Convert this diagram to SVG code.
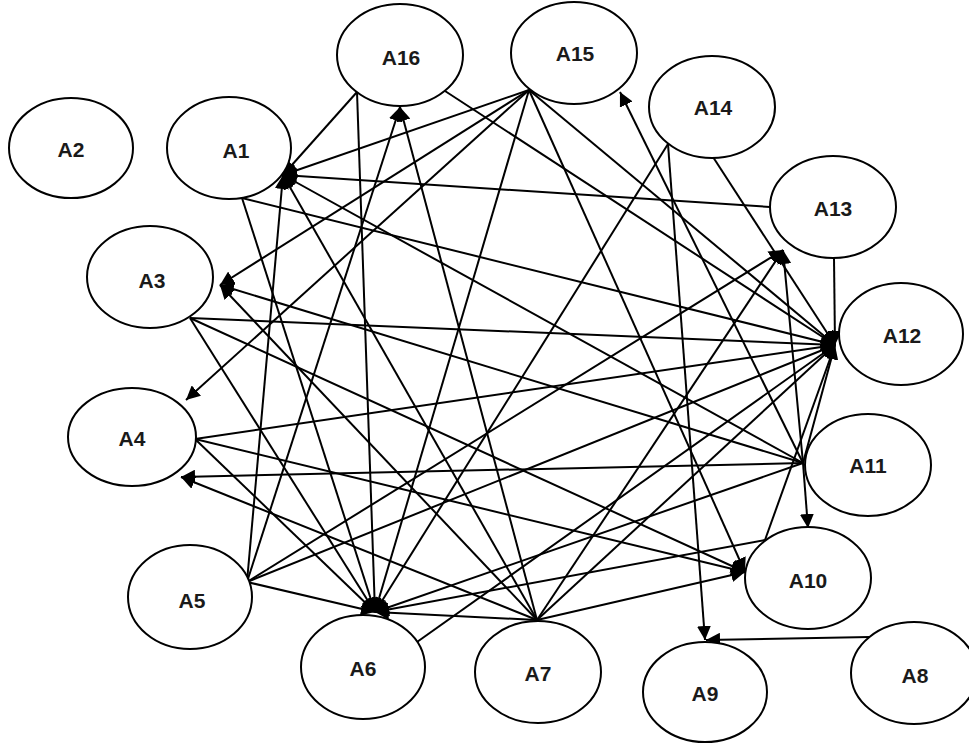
<svg xmlns="http://www.w3.org/2000/svg" width="969" height="746" viewBox="0 0 969 746">
<defs>
<marker id="ah" markerUnits="userSpaceOnUse" markerWidth="14" markerHeight="14" refX="14" refY="7" orient="auto">
<path d="M0,0 L14,7 L0,14 z" fill="#000"/>
</marker>
<style>
.n ellipse{fill:#fff;stroke:#000;stroke-width:2}
.n text{font-family:"Liberation Sans",Arial,sans-serif;font-weight:bold;font-size:21px;fill:#1a1a1a;text-anchor:middle;dominant-baseline:central}
#edges line{stroke:#000;stroke-width:2}
#edges line.a{marker-end:url(#ah)}
</style>
</defs>
<rect width="969" height="746" fill="#fff"/>
<g id="edges">
<line class="a" x1="357" y1="92" x2="283" y2="175"/>
<line class="a" x1="529" y1="90" x2="283" y2="175"/>
<line class="a" x1="770" y1="207" x2="283" y2="175"/>
<line class="a" x1="247" y1="582" x2="283" y2="175"/>
<line class="a" x1="537" y1="620" x2="283" y2="175"/>
<line class="a" x1="803" y1="463" x2="283" y2="175"/>
<line class="a" x1="242" y1="198" x2="375" y2="612"/>
<line class="a" x1="242" y1="198" x2="835" y2="345"/>
<line class="a" x1="357" y1="92" x2="375" y2="612"/>
<line class="a" x1="445" y1="91" x2="835" y2="345"/>
<line class="a" x1="247" y1="582" x2="400" y2="107"/>
<line class="a" x1="537" y1="620" x2="400" y2="107"/>
<line class="a" x1="529" y1="90" x2="220" y2="285"/>
<line class="a" x1="529" y1="90" x2="186" y2="400"/>
<line class="a" x1="529" y1="90" x2="375" y2="612"/>
<line class="a" x1="529" y1="90" x2="745" y2="572"/>
<line class="a" x1="529" y1="90" x2="835" y2="345"/>
<line class="a" x1="803" y1="463" x2="620" y2="92"/>
<line class="a" x1="668" y1="144" x2="375" y2="612"/>
<line class="a" x1="668" y1="144" x2="705" y2="640"/>
<line class="a" x1="713" y1="157" x2="835" y2="345"/>
<line class="a" x1="834" y1="258" x2="835" y2="345"/>
<line class="a" x1="190" y1="318" x2="835" y2="345"/>
<line class="a" x1="195" y1="439" x2="835" y2="345"/>
<line class="a" x1="247" y1="582" x2="835" y2="345"/>
<line class="a" x1="417" y1="642" x2="835" y2="345"/>
<line class="a" x1="537" y1="620" x2="835" y2="345"/>
<line class="a" x1="765" y1="540" x2="835" y2="345"/>
<line class="a" x1="803" y1="463" x2="835" y2="345"/>
<line class="a" x1="247" y1="582" x2="783" y2="250"/>
<line class="a" x1="537" y1="620" x2="783" y2="250"/>
<line class="a" x1="803" y1="463" x2="783" y2="250"/>
<line class="a" x1="803" y1="463" x2="808" y2="528"/>
<line class="a" x1="803" y1="463" x2="220" y2="285"/>
<line class="a" x1="803" y1="463" x2="181" y2="477"/>
<line class="a" x1="803" y1="463" x2="375" y2="612"/>
<line class="a" x1="537" y1="620" x2="220" y2="285"/>
<line class="a" x1="537" y1="620" x2="181" y2="477"/>
<line class="a" x1="537" y1="620" x2="375" y2="612"/>
<line class="a" x1="537" y1="620" x2="745" y2="572"/>
<line class="a" x1="247" y1="582" x2="375" y2="612"/>
<line class="a" x1="190" y1="318" x2="375" y2="612"/>
<line class="a" x1="195" y1="439" x2="375" y2="612"/>
<line class="a" x1="765" y1="540" x2="375" y2="612"/>
<line class="a" x1="190" y1="318" x2="745" y2="572"/>
<line class="a" x1="195" y1="439" x2="745" y2="572"/>
<line class="a" x1="870" y1="637" x2="706" y2="640"/>
</g>
<g id="A2" class="n"><ellipse cx="71" cy="148" rx="62" ry="50"/><text x="71" y="149">A2</text></g>
<g id="A1" class="n"><ellipse cx="229" cy="148" rx="62" ry="51"/><text x="236" y="150">A1</text></g>
<g id="A16" class="n"><ellipse cx="400" cy="55" rx="63" ry="51"/><text x="401" y="57">A16</text></g>
<g id="A15" class="n"><ellipse cx="574" cy="53" rx="63" ry="51"/><text x="575" y="53">A15</text></g>
<g id="A14" class="n"><ellipse cx="712" cy="107" rx="63" ry="51"/><text x="713" y="107">A14</text></g>
<g id="A13" class="n"><ellipse cx="833" cy="207" rx="63" ry="51"/><text x="833" y="208">A13</text></g>
<g id="A12" class="n"><ellipse cx="901" cy="334" rx="62" ry="51"/><text x="902" y="335">A12</text></g>
<g id="A3" class="n"><ellipse cx="150" cy="277" rx="63" ry="51"/><text x="152" y="280">A3</text></g>
<g id="A4" class="n"><ellipse cx="132" cy="437" rx="64" ry="49"/><text x="132" y="438">A4</text></g>
<g id="A5" class="n"><ellipse cx="190" cy="597" rx="62" ry="52"/><text x="192" y="600">A5</text></g>
<g id="A6" class="n"><ellipse cx="363" cy="667" rx="62" ry="52"/><text x="363" y="668">A6</text></g>
<g id="A7" class="n"><ellipse cx="538" cy="672" rx="63" ry="51"/><text x="538" y="673">A7</text></g>
<g id="A9" class="n"><ellipse cx="705" cy="692" rx="62" ry="50"/><text x="705" y="693">A9</text></g>
<g id="A10" class="n"><ellipse cx="808" cy="578" rx="63" ry="51"/><text x="808" y="580">A10</text></g>
<g id="A11" class="n"><ellipse cx="868" cy="465" rx="63" ry="51"/><text x="868" y="465">A11</text></g>
<g id="A8" class="n"><ellipse cx="914" cy="673" rx="63" ry="51"/><text x="915" y="675">A8</text></g>
</svg>
